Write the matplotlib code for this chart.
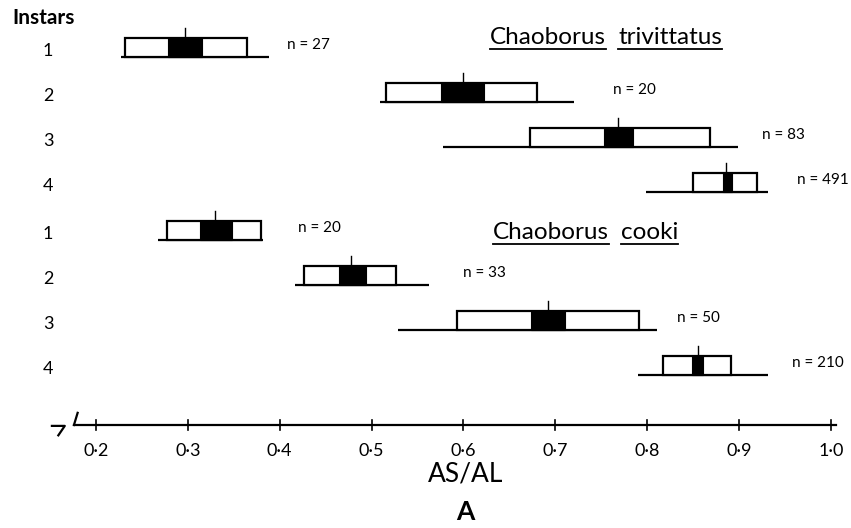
import matplotlib
matplotlib.use("Agg")
import matplotlib.pyplot as plt
from matplotlib.patches import Rectangle
import numpy as np

plt.rcParams['font.family'] = ['Lato', 'DejaVu Sans']

# data (AS/AL ratio)
instars = ['1', '2', '3', '4']

triv_min = [0.227, 0.509, 0.578, 0.799]
triv_max = [0.388, 0.720, 0.899, 0.931]
triv_sd_lo = [0.232, 0.516, 0.672, 0.850]
triv_sd_hi = [0.364, 0.680, 0.868, 0.919]
triv_ci_lo = [0.278, 0.576, 0.753, 0.882]
triv_ci_hi = [0.315, 0.622, 0.785, 0.892]
triv_mean = [0.297, 0.599, 0.768, 0.886]
triv_n = [27, 20, 83, 491]

cooki_min = [0.267, 0.417, 0.529, 0.790]
cooki_max = [0.382, 0.562, 0.811, 0.932]
cooki_sd_lo = [0.277, 0.426, 0.593, 0.817]
cooki_sd_hi = [0.380, 0.527, 0.791, 0.891]
cooki_ci_lo = [0.313, 0.464, 0.673, 0.849]
cooki_ci_hi = [0.348, 0.494, 0.711, 0.861]
cooki_mean = [0.330, 0.478, 0.692, 0.855]
cooki_n = [20, 33, 50, 210]

xticks = [0.2, 0.3, 0.4, 0.5, 0.6, 0.7, 0.8, 0.9, 1.0]

# layout: where the "n = .." labels start
triv_nx = [0.408, 0.763, 0.925, 0.963]
cooki_nx = [0.420, 0.599, 0.832, 0.958]

BOX_H = 0.415
TICK_H = 0.22
LW = 1.6


def draw_group(ax, ys, mn, mx, sdl, sdh, cil, cih, mean, n, nx):
    for i, y in enumerate(ys):
        ax.plot([mn[i], mx[i]], [y, y], color='black', lw=LW, solid_capstyle='butt')
        ax.add_patch(Rectangle((sdl[i], y - BOX_H), sdh[i] - sdl[i], BOX_H,
                               facecolor='white', edgecolor='black', lw=LW, zorder=3))
        ax.add_patch(Rectangle((cil[i], y - BOX_H), cih[i] - cil[i], BOX_H,
                               facecolor='black', edgecolor='black', lw=0.8, zorder=4))
        ax.plot([mean[i], mean[i]], [y - BOX_H, y - BOX_H - TICK_H],
                color='black', lw=1.0, zorder=5)
        ax.text(nx[i], y - 0.26, 'n = %d' % n[i], fontsize=11, ha='left', va='center')
        ax.text(0.1478, y - 0.13, instars[i], fontsize=13, ha='center', va='center')


def underlined_title(ax, fig, x, y, words):
    r = fig.canvas.get_renderer()
    inv = ax.transData.inverted()
    for w in words:
        t = ax.text(x, y, w, fontsize=17.5, ha='left', va='center')
        bb = t.get_window_extent(renderer=r)
        (x0, y0), (x1, y1) = inv.transform([[bb.x0, bb.y0], [bb.x1, bb.y1]])
        ax.plot([x0, x1], [y0 + 0.03, y0 + 0.03], color='black', lw=1.3)
        # next word a bit further right
        x = x1 + 0.013


fig = plt.figure(figsize=(8.51, 5.28), dpi=100)
ax = fig.add_axes([0, 0, 1, 1])
ax.set_xlim(0.0955, 1.0218)
ax.set_ylim(10.473, -1.26)
ax.axis('off')

triv_y = np.arange(4)
cooki_y = np.arange(4) + 4.07

draw_group(ax, triv_y, triv_min, triv_max, triv_sd_lo, triv_sd_hi,
           triv_ci_lo, triv_ci_hi, triv_mean, triv_n, triv_nx)
draw_group(ax, cooki_y, cooki_min, cooki_max, cooki_sd_lo, cooki_sd_hi,
           cooki_ci_lo, cooki_ci_hi, cooki_mean, cooki_n, cooki_nx)

ax.text(0.1434, -0.86, 'Instars', fontsize=15, fontweight='bold', ha='center', va='center')

underlined_title(ax, fig, 0.629, -0.43, ['Chaoborus', 'trivittatus'])
underlined_title(ax, fig, 0.632, 3.90, ['Chaoborus', 'cooki'])

# x axis drawn by hand, with the break mark at the left
axis_y = 8.184
ax.plot([0.176, 1.006], [axis_y, axis_y], color='black', lw=1.6)
ax.plot([0.176, 0.180], [axis_y, axis_y - 0.27], color='black', lw=1.6)
ax.plot([0.152, 0.166, 0.159], [axis_y + 0.02, axis_y + 0.02, axis_y + 0.23],
        color='black', lw=1.6)
for v in xticks:
    ax.plot([v, v], [axis_y - 0.12, axis_y + 0.11], color='black', lw=1.2)
    ax.text(v, axis_y + 0.58, ('%.1f' % v).replace('.', '\u00b7'),
            fontsize=13, ha='center', va='center')

ax.text(0.602, 9.27, 'AS/AL', fontsize=19, ha='center', va='center')
ax.text(0.602, 10.12, 'A', fontsize=19, fontweight='bold', ha='center', va='center')

fig.savefig('out.png', dpi=100)
